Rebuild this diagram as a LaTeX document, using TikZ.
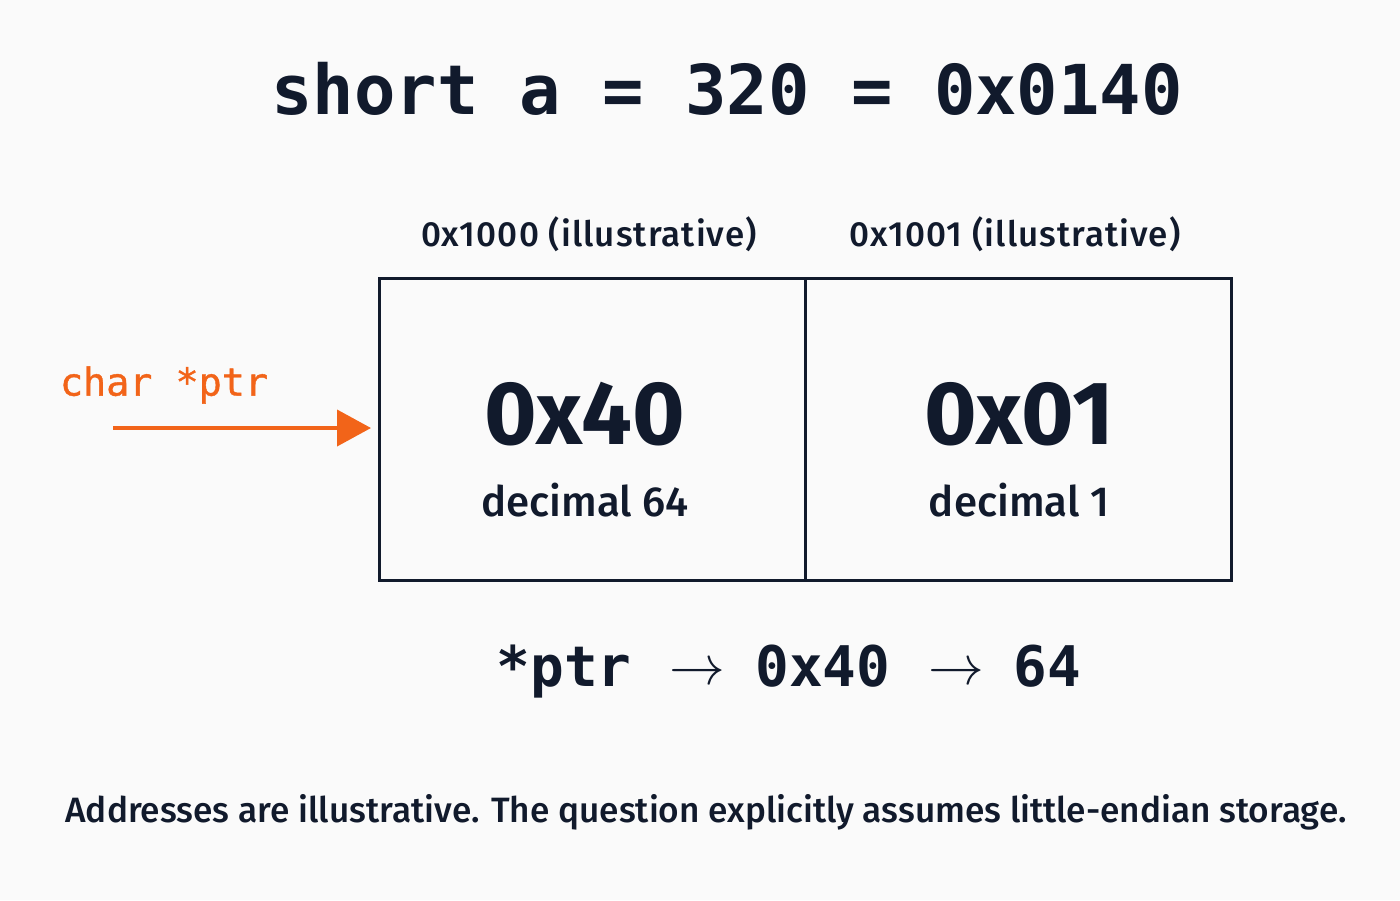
\documentclass[tikz,border=0pt]{standalone}
\usepackage{fontspec}
\setmainfont{Fira Sans}
\setmonofont{DejaVu Sans Mono}
\newfontfamily\medfont{Fira Sans Medium}
\newfontfamily\ptrfont{DejaVu Sans Mono}[FakeBold=1]
\usepackage{tikz}
\usetikzlibrary{arrows.meta}
\usetikzlibrary{positioning}
\tikzset{>={Triangle[width=18pt,length=17pt]}}
\definecolor{ink}{HTML}{111A2C}
\definecolor{ptrorange}{HTML}{F26419}
\definecolor{paper}{HTML}{FAFAFA}
\newcommand{\derefto}{\hspace{19pt}\raisebox{1pt}{\scalebox{1.12}{$\rightarrow$}}\hspace{15pt}}
\tikzset{
  cell/.style={draw=ink, line width=1.5pt, minimum width=213pt,
    minimum height=151pt, inner sep=0pt, outer sep=0pt},
  addr/.style={text=ink,
    font=\medfont\addfontfeature{LetterSpace=3}\fontsize{17.5}{21}\selectfont},
  hexval/.style={text=ink, font=\bfseries\fontsize{45}{50}\selectfont},
  decval/.style={text=ink, font=\medfont\fontsize{21}{25}\selectfont}
}

\begin{document}
\begin{tikzpicture}[x=0.5pt,y=-0.5pt]

  \fill[paper] (0,0) rectangle (1400,900);
  \useasboundingbox (0,0) rectangle (1400,900);

  \node[text=ink, font=\ttfamily\bfseries\fontsize{34.4}{40}\selectfont]
  (title) at (727,89) {short a = 320 = 0x0140};

  %% the two bytes
  \node[cell] (cellA) at (592.5,429) {};
  \node[cell, anchor=west] (cellB) at (cellA.east) {};

  \node[addr] (addrA) at (589,234) {0x1000 (illustrative)};
  \node[addr] (addrB) at (1015,234) {0x1001 (illustrative)};

  \node[hexval] (hexA) at (585,414) {0x40};
  \node[decval] (decA) at (585,500) {decimal 64};
  \node[hexval] (hexB) at (1019,414) {0x01};
  \node[decval] (decB) at (1019,500) {decimal 1};

  %% pointer
  \node[text=ptrorange, font=\ptrfont\fontsize{19.2}{23}\selectfont]
  (ptr) at (164,385) {char *ptr};
  \coordinate (ptrtail) at (113,428);
  \coordinate (ptrhead) at (371,428);
  \draw[->, ptrorange, line width=2pt] (ptrtail) -- (ptrhead);

  \node[text=ink, font=\ttfamily\bfseries\fontsize{28}{32}\selectfont]
  (deref) at (789,672) {*ptr\derefto 0x40\derefto 64};

  \node[text=ink, font=\medfont\fontsize{17.6}{21}\selectfont]
  (note) at (706,812)
  {Addresses are illustrative. The question explicitly assumes little-endian storage.};

\end{tikzpicture}
\end{document}
